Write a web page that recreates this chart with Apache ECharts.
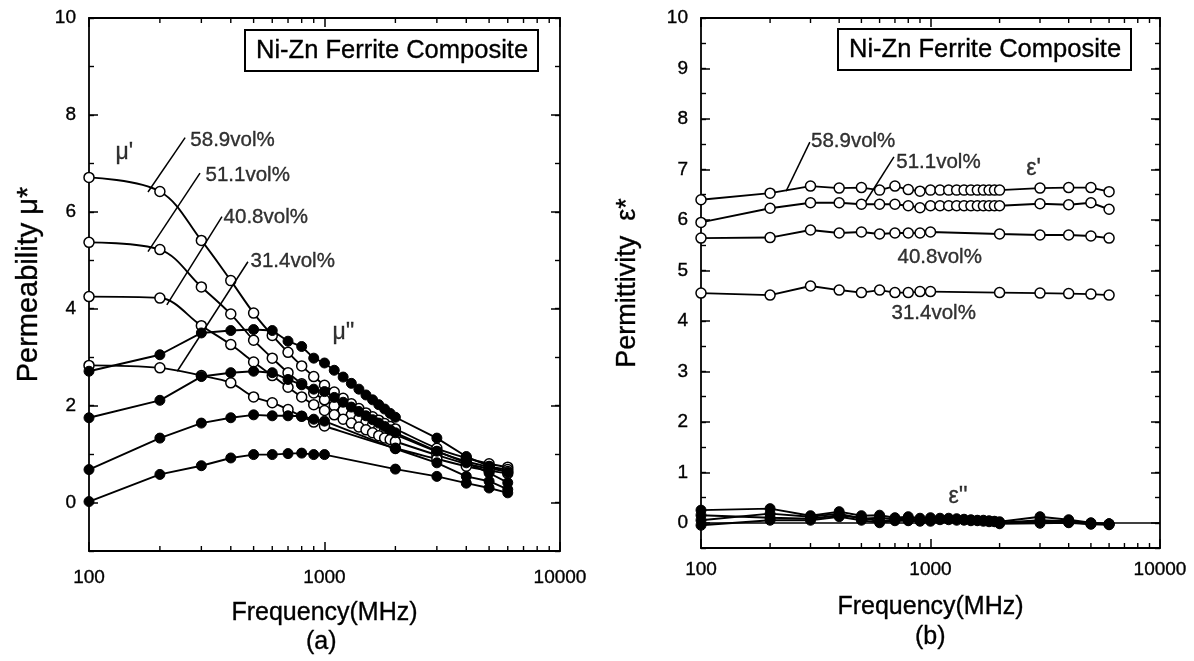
<!DOCTYPE html>
<html><head><meta charset="utf-8">
<script src="https://cdn.jsdelivr.net/npm/echarts@6/dist/echarts.min.js"></script>
<style>html,body{margin:0;padding:0;background:#fff}#c{width:1194px;height:661px}</style>
</head><body><div id="c"></div>
<script>
// ---- frequencies (MHz) ----
const freqShort = [100,200,300,400,500,600,700,800,900,1000,2000,3000,4000,5000,6000];
const freqLong  = [100,200,300,400,500,600,700,800,900,1000,1100,1200,1300,1400,1500,1600,1700,1800,1900,2000,3000,4000,5000,6000];
const freqMinorTicks = [200,300,400,500,600,700,800,900,2000,3000,4000,5000,6000,7000,8000,9000];

// ---- (a) permeability: mu' (open) ----
const muReal589 = [6.71,6.42,5.41,4.58,3.91,3.45,3.10,2.82,2.60,2.42,2.28,2.15,2.04,1.94,1.85,1.77,1.70,1.63,1.57,1.52,1.12,0.92,0.80,0.73];
const muReal511 = [5.37,5.22,4.45,3.89,3.35,2.98,2.68,2.45,2.26,2.12,2.00,1.90,1.81,1.73,1.66,1.60,1.54,1.49,1.44,1.40,1.05,0.85,0.74,0.68];
const muReal408 = [4.25,4.22,3.65,3.26,2.90,2.62,2.38,2.18,2.02,1.90,1.81,1.72,1.64,1.56,1.50,1.44,1.38,1.33,1.30,1.26,0.98,0.80,0.70,0.64];
const muReal314 = [2.83,2.78,2.62,2.47,2.18,2.06,1.92,1.78,1.66,1.58,1.12,0.90,0.75,0.66,0.60];
// ---- (a) permeability: mu'' (filled) ----
const muImag589 = [2.71,3.05,3.50,3.55,3.57,3.55,3.33,3.22,2.98,2.88,2.73,2.59,2.46,2.34,2.22,2.12,2.02,1.93,1.84,1.76,1.33,0.95,0.75,0.62];
const muImag511 = [1.75,2.11,2.60,2.68,2.71,2.68,2.54,2.43,2.34,2.29,2.17,2.07,1.97,1.88,1.79,1.71,1.64,1.57,1.50,1.44,1.06,0.82,0.61,0.41];
const muImag408 = [0.68,1.33,1.64,1.75,1.81,1.79,1.79,1.78,1.72,1.68,1.11,0.82,0.54,0.44,0.27];
const muImag314 = [0.02,0.58,0.76,0.92,0.99,0.99,1.01,1.02,0.99,0.99,0.69,0.54,0.40,0.30,0.20];

// ---- (b) permittivity: eps' (open) ----
const epsReal589 = [6.40,6.53,6.67,6.63,6.64,6.59,6.67,6.60,6.57,6.59,6.59,6.59,6.59,6.59,6.59,6.59,6.59,6.59,6.59,6.59,6.63,6.64,6.64,6.56];
const epsReal511 = [5.95,6.23,6.34,6.34,6.31,6.31,6.31,6.28,6.24,6.28,6.28,6.28,6.28,6.28,6.28,6.28,6.28,6.28,6.28,6.28,6.32,6.30,6.34,6.21];
const epsReal408 = [5.64,5.65,5.80,5.74,5.76,5.72,5.74,5.74,5.74,5.76,5.72,5.70,5.70,5.68,5.64];
const epsReal314 = [4.55,4.51,4.69,4.61,4.56,4.61,4.56,4.56,4.58,4.58,4.56,4.55,4.54,4.53,4.51];
// ---- (b) permittivity: eps'' (filled) ----
const epsImag589 = [0.25,0.28,0.14,0.22,0.14,0.15,0.10,0.12,0.09,0.10,0.09,0.09,0.08,0.07,0.06,0.05,0.05,0.04,0.03,0.02,0.12,0.06,0.00,-0.02];
const epsImag511 = [0.05,0.18,0.12,0.18,0.08,0.10,0.07,0.08,0.06,0.07,0.06,0.06,0.05,0.05,0.04,0.04,0.03,0.02,0.02,0.00,0.05,0.03,-0.01,-0.03];
const epsImag408 = [0.15,0.10,0.08,0.15,0.10,0.03,0.06,0.05,0.05,0.05,0.00,0.02,0.01,-0.02,-0.02];
const epsImag314 = [-0.05,0.05,0.05,0.12,0.05,0.00,0.04,0.04,0.03,0.03,-0.02,-0.01,0.00,-0.03,-0.04];

// ---- tick labels ----
const xTickLabels = [100,1000,10000];
const yTicksA = [0,2,4,6,8,10];
const yTicksB = [0,1,2,3,4,5,6,7,8,9,10];

// ---- annotations (data coordinates) ----
const textA = [
  ['58.9vol%', 268, 7.48], ['51.1vol%', 311, 6.76], ['40.8vol%', 371, 5.88], ['31.4vol%', 483, 4.97]
];
const symA = [["μ'", 129, 7.22], ["μ''", 1075, 3.5]];
const leadA = [
  [[256,7.53],[178,6.41]], [[296,6.80],[178,5.18]], [[367,5.90],[214,4.08]], [[473,4.97],[237,2.71]]
];
const textB = [
  ['58.9vol%', 300, 7.56], ['51.1vol%', 706, 7.14], ['40.8vol%', 715, 5.25], ['31.4vol%', 673, 4.14]
];
const symB = [["ε'", 2600, 7.02], ["ε''", 1193, 0.51]];
const leadB = [
  [[298,7.54],[235,6.57]], [[693,7.25],[521,6.36]]
];

const FONT = '"Liberation Sans", Arial, Helvetica, sans-serif';
const INK = {textBorderColor: '#000', textBorderWidth: 0.35};
const pair = (xs, ys) => xs.map((x, i) => [x, ys[i]]);

function dataSeries(xs, ys, xi, yi, open, smooth) {
  return {
    type: 'line', xAxisIndex: xi, yAxisIndex: yi, data: pair(xs, ys),
    smooth: smooth ? 0.35 : false, symbol: 'circle', symbolSize: 10, showSymbol: true,
    lineStyle: {color: '#000', width: 1.9},
    itemStyle: open ? {color: '#fff', borderColor: '#000', borderWidth: 1.5} : {color: '#000', borderColor: '#000', borderWidth: 1},
    z: open ? 3 : 4, animation: false, silent: true
  };
}
function textSeries(items, xi, yi, size) {
  return {
    type: 'scatter', xAxisIndex: xi, yAxisIndex: yi, symbolSize: 1, silent: true, animation: false,
    itemStyle: {color: 'rgba(0,0,0,0)'},
    data: items.map(t => ({value: [t[1], t[2]], name: t[0]})),
    label: Object.assign({show: true, position: 'right', distance: 0, formatter: p => p.name,
      color: '#000', fontSize: size, fontFamily: FONT, align: 'left', verticalAlign: 'middle'}, INK),
    z: 6
  };
}
function leaderSeries(lines, xi, yi) {
  return {
    type: 'line', xAxisIndex: xi, yAxisIndex: yi, data: [], animation: false, silent: true,
    markLine: {silent: true, symbol: 'none', animation: false, label: {show: false},
      lineStyle: {color: '#000', width: 1.5, type: 'solid'},
      data: lines.map(l => [{coord: l[0]}, {coord: l[1]}])}
  };
}
function minorXTicks(xi, yi, ymin, ymax) {
  return {
    type: 'custom', xAxisIndex: xi, yAxisIndex: yi, silent: true, animation: false, clip: false,
    data: freqMinorTicks.map(f => [f, ymin]),
    renderItem: (params, api) => {
      const f = api.value(0);
      const b = api.coord([f, ymin]);
      const t = api.coord([f, ymax]);
      const st = {stroke: '#000', lineWidth: 1.4};
      return {type: 'group', children: [
        {type: 'line', shape: {x1: b[0], y1: b[1], x2: b[0], y2: b[1] - 5}, style: st},
        {type: 'line', shape: {x1: t[0], y1: t[1], x2: t[0], y2: t[1] + 5}, style: st}
      ]};
    }, z: 5
  };
}

const axisLineStyle = {color: '#000', width: 1.8};
function xAxisDef(grid, pos, showLabel, margin, gap) {
  return {
    type: 'log', logBase: 10, min: 100, max: 10000, gridIndex: grid, position: pos,
    axisLine: {show: true, onZero: false, lineStyle: axisLineStyle},
    axisTick: {show: true, inside: true, length: 9, lineStyle: {color: '#000', width: 1.5}},
    axisLabel: Object.assign({show: showLabel, color: '#000', fontSize: 19, fontFamily: FONT, margin: margin || 14,
      customValues: xTickLabels, formatter: v => String(Math.round(v))}, INK),
    splitLine: {show: false},
    name: showLabel ? 'Frequency(MHz)' : '', nameLocation: 'middle', nameGap: gap || 48,
    nameTextStyle: Object.assign({color: '#000', fontSize: 25, fontFamily: FONT}, INK)
  };
}
function yAxisMain(grid, pos, min, max, ticks, name, gap, nameSize) {
  const show = pos === 'left';
  return {
    type: 'value', gridIndex: grid, position: pos, min: min, max: max,
    axisLine: {show: true, onZero: false, lineStyle: axisLineStyle},
    axisTick: {show: true, inside: true, length: 9, customValues: ticks, lineStyle: {color: '#000', width: 1.5}},
    axisLabel: Object.assign({show: show, customValues: ticks, color: '#000', fontSize: 19, fontFamily: FONT, margin: 13}, INK),
    splitLine: {show: false},
    name: show ? name : '', nameLocation: 'middle', nameGap: show ? gap : 0,
    nameTextStyle: Object.assign({color: '#000', fontSize: nameSize || 27, fontFamily: FONT}, INK)
  };
}
function yAxisMinor(grid, pos, min, max, interval) {
  return {
    type: 'value', gridIndex: grid, position: pos, min: min, max: max, interval: interval,
    axisLine: {show: false}, axisLabel: {show: false}, splitLine: {show: false},
    axisTick: {show: true, inside: true, length: 5, lineStyle: {color: '#000', width: 1.4}}
  };
}

const boxTitle = (left, top) => ({
  text: 'Ni-Zn Ferrite Composite', left: left, top: top, padding: [8, 10, 7, 11],
  borderColor: '#000', borderWidth: 2,
  textStyle: Object.assign({color: '#000', fontSize: 25.5, fontWeight: 'normal', fontFamily: FONT}, INK)
});
const subTitle = (text, left, top) => ({
  text: text, left: left, top: top, padding: 0,
  textStyle: Object.assign({color: '#000', fontSize: 25, fontWeight: 'normal', fontFamily: FONT}, INK)
});

const option = {
  backgroundColor: '#fff',
  animation: false,
  title: [
    boxTitle(245, 30), boxTitle(838, 29),
    subTitle('(a)', 306, 630), subTitle('(b)', 915, 625)
  ],
  grid: [
    {left: 89, top: 18, width: 471, height: 533, outerBoundsMode: 'none', containLabel: false},
    {left: 701, top: 18, width: 459, height: 530, outerBoundsMode: 'none', containLabel: false}
  ],
  xAxis: [
    xAxisDef(0, 'bottom', true, 17, 50), xAxisDef(0, 'top', false),
    xAxisDef(1, 'bottom', true, 12, 47), xAxisDef(1, 'top', false)
  ],
  yAxis: [
    yAxisMain(0, 'left', -1, 10, yTicksA, 'Permeability μ*', 46, 29),
    yAxisMain(0, 'right', -1, 10, yTicksA, '', 0),
    yAxisMain(1, 'left', -0.5, 10, yTicksB, 'Permittivity  ε*', 60, 27),
    yAxisMain(1, 'right', -0.5, 10, yTicksB, '', 0),
    yAxisMinor(0, 'left', -1, 10, 1), yAxisMinor(0, 'right', -1, 10, 1),
    yAxisMinor(1, 'left', -0.5, 10, 0.5), yAxisMinor(1, 'right', -0.5, 10, 0.5)
  ],
  series: [
    // (a)
    dataSeries(freqLong, muReal589, 0, 0, true, true),
    dataSeries(freqLong, muReal511, 0, 0, true, true),
    dataSeries(freqLong, muReal408, 0, 0, true, true),
    dataSeries(freqShort, muReal314, 0, 0, true, true),
    dataSeries(freqLong, muImag589, 0, 0, false, false),
    dataSeries(freqLong, muImag511, 0, 0, false, false),
    dataSeries(freqShort, muImag408, 0, 0, false, false),
    dataSeries(freqShort, muImag314, 0, 0, false, false),
    textSeries(textA, 0, 0, 20.5),
    textSeries(symA, 0, 0, 23),
    leaderSeries(leadA, 0, 0),
    minorXTicks(0, 0, -1, 10),
    // (b)
    dataSeries(freqLong, epsReal589, 2, 2, true, false),
    dataSeries(freqLong, epsReal511, 2, 2, true, false),
    dataSeries(freqShort, epsReal408, 2, 2, true, false),
    dataSeries(freqShort, epsReal314, 2, 2, true, false),
    Object.assign(dataSeries(freqLong, epsImag589, 2, 2, false, false), {
      markLine: {silent: true, symbol: 'none', animation: false, label: {show: false},
        lineStyle: {color: '#000', width: 1.5, type: 'solid'}, data: [{yAxis: 0}]}
    }),
    dataSeries(freqLong, epsImag511, 2, 2, false, false),
    dataSeries(freqShort, epsImag408, 2, 2, false, false),
    dataSeries(freqShort, epsImag314, 2, 2, false, false),
    textSeries(textB, 2, 2, 20.5),
    textSeries(symB, 2, 2, 23),
    leaderSeries(leadB, 2, 2),
    minorXTicks(2, 2, -0.5, 10)
  ]
};
const chart = echarts.init(document.getElementById('c'));
chart.setOption(option);
</script>
</body></html>
